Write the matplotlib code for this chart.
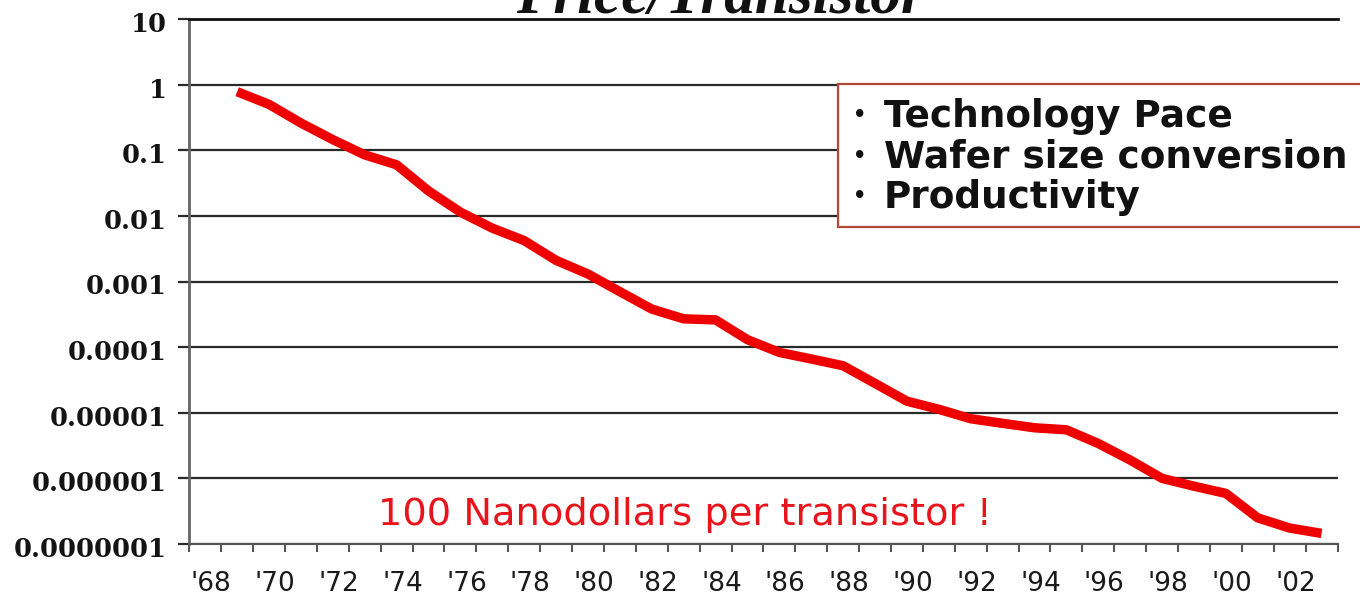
import matplotlib
matplotlib.use("Agg")
import matplotlib.pyplot as plt
import matplotlib.transforms as mtransforms
from matplotlib.patches import Rectangle
from matplotlib.ticker import NullLocator, FixedLocator

# Price per transistor (US$), one value per year
years = list(range(1969, 2004))
price_per_transistor = [
    0.78, 0.50, 0.26, 0.145, 0.085, 0.06, 0.024, 0.0114, 0.0065, 0.0042,
    0.0021, 0.0013, 0.0007, 0.00038, 0.00027, 0.00026, 0.00013, 8.3e-5,
    6.6e-5, 5.2e-5, 2.8e-5, 1.5e-5, 1.13e-5, 8.1e-6, 6.9e-6, 5.9e-6,
    5.5e-6, 3.4e-6, 1.9e-6, 1.0e-6, 7.6e-7, 5.9e-7, 2.5e-7, 1.75e-7,
    1.45e-7,
]

label_years = list(range(1968, 2003, 2))
x_labels = ["'68", "'70", "'72", "'74", "'76", "'78", "'80", "'82", "'84",
            "'86", "'88", "'90", "'92", "'94", "'96", "'98", "'00", "'02"]
y_ticks = [1e-7, 1e-6, 1e-5, 1e-4, 1e-3, 1e-2, 1e-1, 1, 10]
y_labels = ["0.0000001", "0.000001", "0.00001", "0.0001", "0.001",
            "0.01", "0.1", "1", "10"]

title = "Price/Transistor"
drivers = ["Technology Pace", "Wafer size conversion", "Productivity"]
note = "100 Nanodollars per transistor !"

W, H = 1360, 595
fig = plt.figure(figsize=(W / 100, H / 100), dpi=100)
fig.patch.set_facecolor("white")

ax_left, ax_right, ax_top, ax_bottom = 189.3, 1337.5, 19, 544
ax = fig.add_axes([ax_left / W, (H - ax_bottom) / H,
                   (ax_right - ax_left) / W, (ax_bottom - ax_top) / H])

ax.plot(years, price_per_transistor, color="#ee0000", lw=6.8,
        solid_joinstyle="round", solid_capstyle="butt", zorder=3)

ax.set_yscale("log")
ax.set_ylim(1e-7, 10)
ax.set_xlim(1967.5, 2003.5)

# y axis: decade grid with fixed decimal labels
ax.set_yticks(y_ticks)
ax.set_yticklabels(y_labels)
ax.yaxis.set_minor_locator(NullLocator())
ax.yaxis.grid(True, which="major", color="#2a2a2a", lw=1.6)
ax.set_axisbelow(True)
ax.tick_params(axis="y", which="major", length=8, width=1.6, color="#2a2a2a",
               pad=8.4, labelsize=18.5, labelcolor="#141414")
for lbl in ax.get_yticklabels():
    lbl.set_fontfamily("DejaVu Serif")
    lbl.set_fontweight("bold")
    lbl.set_transform(lbl.get_transform() + mtransforms.ScaledTranslation(
        0, -3 / 100, fig.dpi_scale_trans))

# x axis: labels every two years, tick marks between years
ax.xaxis.set_major_locator(FixedLocator(label_years))
ax.set_xticklabels(x_labels)
ax.xaxis.set_minor_locator(FixedLocator([y + 0.5 for y in range(1967, 2004)]))
ax.tick_params(axis="x", which="major", length=0, pad=19.5, labelsize=19,
               labelcolor="#1a1a1a")
ax.tick_params(axis="x", which="minor", length=6, width=1.5, color="#555555",
               direction="out")
for lbl in ax.get_xticklabels():
    lbl.set_fontfamily("DejaVu Sans")
    lbl.set_transform(lbl.get_transform() + mtransforms.ScaledTranslation(
        6 / 100, 0, fig.dpi_scale_trans))

ax.spines["right"].set_visible(False)
ax.spines["top"].set_color("#111111")
ax.spines["top"].set_linewidth(2.0)
ax.spines["left"].set_color("#666666")
ax.spines["left"].set_linewidth(2.0)
ax.spines["bottom"].set_color("#555555")
ax.spines["bottom"].set_linewidth(1.5)

# title, partly running off the top edge
fig.text(720 / W, 1 - 13 / H, title, ha="center", va="baseline",
         fontfamily="Liberation Serif", fontweight="bold", fontstyle="italic",
         fontsize=44, color="#111111")

# boxed list of cost drivers
box_l, box_t, box_b = 838, 84, 227
fig.add_artist(Rectangle((box_l / W, 1 - box_b / H), (1420 - box_l) / W,
                         (box_b - box_t) / H, transform=fig.transFigure,
                         facecolor="white", edgecolor="#b5473a", lw=1.6,
                         zorder=5))
baselines = [127, 168, 208]
for text, base in zip(drivers, baselines):
    fig.text(860 / W, 1 - (base - 12) / H, "\u2022", ha="center", va="center",
             fontfamily="DejaVu Sans", fontweight="bold", fontsize=15,
             color="#111111", zorder=6)
    fig.text(884 / W, 1 - base / H, text, ha="left", va="baseline",
             fontfamily="DejaVu Sans", fontweight="bold", fontsize=26.9,
             color="#111111", zorder=6)

fig.text(378 / W, 1 - 525 / H, note, ha="left", va="baseline",
         fontfamily="DejaVu Sans", fontsize=27.6, color="#e8141c")

fig.savefig("out.png", dpi=100, facecolor="white")
